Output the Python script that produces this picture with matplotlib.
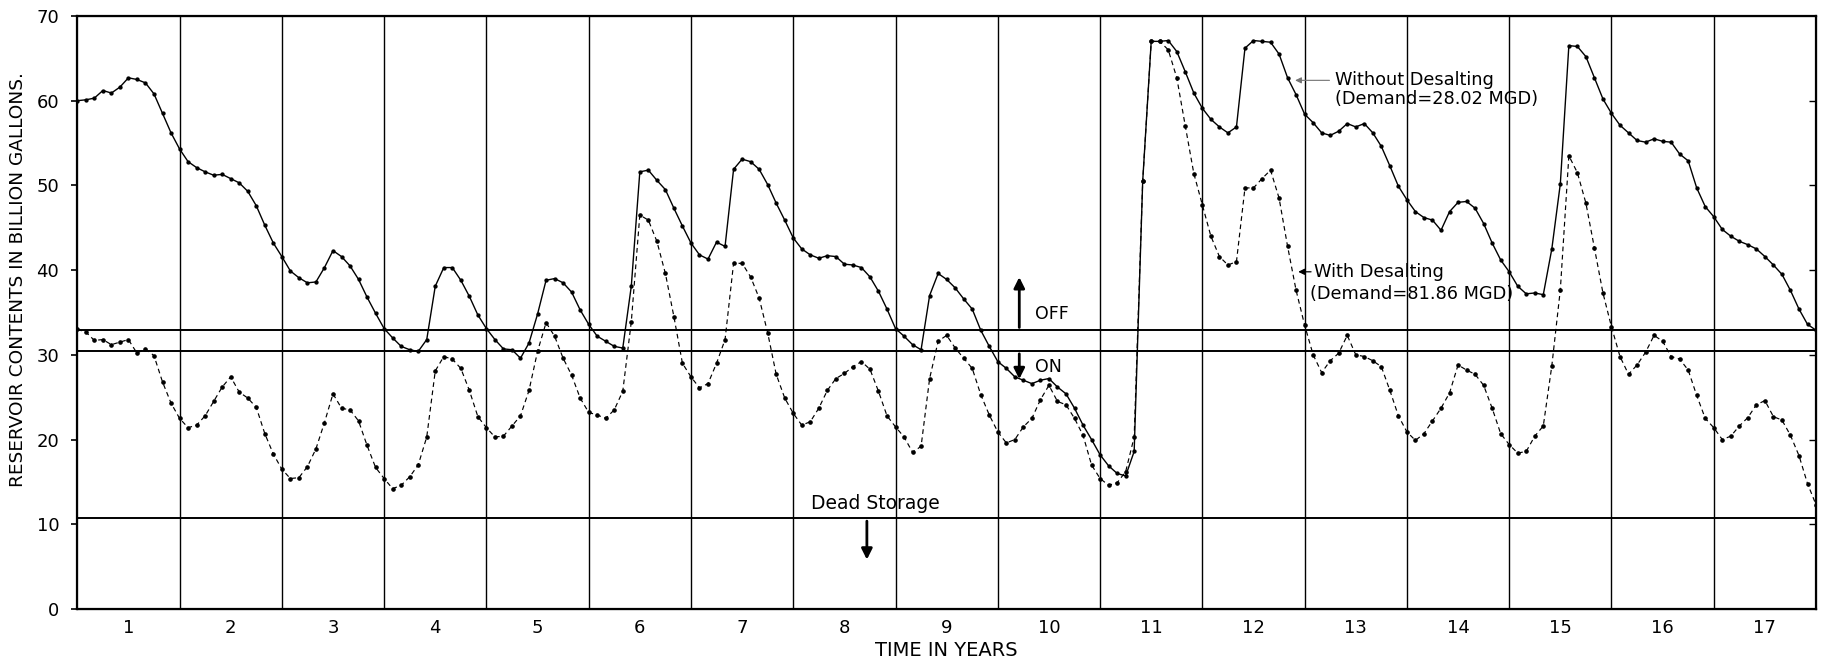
import matplotlib

matplotlib.use("Agg")
import matplotlib.pyplot as plt
import numpy as np

plt.rcParams["font.family"] = ["DejaVu Sans"]

# monthly reservoir contents (billion gallons), first value = start of year 1
without_desal = [
    60.0, 60.1, 60.3, 61.2, 60.9, 61.6, 62.7, 62.5, 62.1, 60.8, 58.5, 56.2, 54.3,
    52.8, 52.1, 51.6, 51.2, 51.3, 50.8, 50.3, 49.3, 47.6, 45.3, 43.2, 41.6,
    39.9, 39.1, 38.5, 38.6, 40.3, 42.3, 41.6, 40.5, 38.9, 36.8, 34.9, 33.1,
    32.0, 31.0, 30.6, 30.4, 31.8, 38.1, 40.3, 40.3, 38.8, 36.9, 34.7, 33.1,
    31.8, 30.7, 30.6, 29.6, 31.4, 34.8, 38.8, 39.0, 38.5, 37.4, 35.3, 33.6,
    32.2, 31.6, 31.0, 30.8, 38.1, 51.6, 51.8, 50.6, 49.5, 47.3, 45.2, 43.2,
    41.8, 41.3, 43.3, 42.8, 51.9, 53.1, 52.8, 51.9, 50.1, 47.9, 45.9, 43.8,
    42.5, 41.8, 41.4, 41.7, 41.6, 40.7, 40.6, 40.3, 39.2, 37.5, 35.4, 33.1,
    32.2, 31.2, 30.6, 37.0, 39.6, 38.9, 37.9, 36.6, 35.4, 32.9, 31.0, 29.2,
    28.4, 27.4, 27.0, 26.6, 27.0, 27.2, 26.2, 25.4, 23.7, 21.7, 20.0, 18.2,
    16.9, 16.0, 15.7, 18.6, 50.5, 67.0, 67.0, 67.1, 65.8, 63.4, 60.9, 59.1,
    57.8, 56.9, 56.2, 56.9, 66.2, 67.1, 67.0, 66.9, 65.5, 62.7, 60.7, 58.4,
    57.4, 56.2, 55.9, 56.4, 57.3, 56.9, 57.3, 56.2, 54.6, 52.3, 49.9, 48.3,
    46.9, 46.2, 45.9, 44.7, 46.9, 48.0, 48.1, 47.3, 45.5, 43.2, 41.2, 39.8,
    38.1, 37.2, 37.3, 37.1, 42.5, 50.2, 66.5, 66.4, 65.2, 62.7, 60.2, 58.5,
    57.1, 56.2, 55.3, 55.1, 55.5, 55.2, 55.1, 53.7, 52.9, 49.7, 47.5, 46.3,
    44.8, 44.0, 43.4, 43.0, 42.5, 41.6, 40.6, 39.5, 37.6, 35.4, 33.6, 32.9,
]

with_desal = [
    33.0, 32.7, 31.7, 31.8, 31.2, 31.5, 31.8, 30.2, 30.7, 29.9, 26.8, 24.3, 22.5,
    21.4, 21.7, 22.8, 24.5, 26.2, 27.4, 25.6, 24.9, 23.8, 20.7, 18.3, 16.5,
    15.4, 15.5, 16.8, 18.9, 22.0, 25.4, 23.7, 23.5, 22.2, 19.3, 16.7, 15.4,
    14.2, 14.6, 15.6, 17.0, 20.3, 28.1, 29.8, 29.5, 28.4, 25.8, 22.7, 21.4,
    20.3, 20.4, 21.6, 22.8, 25.8, 30.4, 33.8, 32.2, 29.6, 27.6, 24.9, 23.2,
    22.9, 22.5, 23.5, 25.7, 33.9, 46.5, 45.9, 43.4, 39.6, 34.5, 29.0, 27.4,
    26.1, 26.6, 29.0, 31.8, 40.8, 40.8, 39.2, 36.7, 32.6, 27.7, 24.9, 23.1,
    21.7, 22.1, 23.7, 25.8, 27.2, 27.8, 28.6, 29.2, 28.3, 25.7, 22.8, 21.5,
    20.3, 18.5, 19.2, 27.2, 31.6, 32.3, 30.8, 29.6, 28.4, 25.3, 22.9, 20.9,
    19.6, 20.0, 21.5, 22.5, 24.7, 26.4, 24.5, 24.1, 22.5, 20.5, 17.0, 15.4,
    14.6, 14.9, 16.2, 20.3, 50.5, 67.0, 67.0, 66.0, 62.7, 57.0, 51.4, 47.7,
    44.0, 41.6, 40.6, 41.0, 49.7, 49.7, 50.8, 51.8, 48.5, 42.8, 37.6, 33.5,
    30.0, 27.9, 29.3, 30.2, 32.3, 30.0, 29.8, 29.3, 28.6, 25.8, 22.8, 20.9,
    19.9, 20.7, 22.2, 23.7, 25.5, 28.8, 28.2, 27.7, 26.4, 23.7, 20.7, 19.4,
    18.4, 18.6, 20.4, 21.6, 28.7, 37.7, 53.5, 51.5, 47.9, 42.6, 37.3, 33.3,
    29.8, 27.7, 28.8, 30.3, 32.3, 31.6, 29.8, 29.5, 28.2, 25.2, 22.5, 21.4,
    20.0, 20.4, 21.6, 22.6, 24.1, 24.6, 22.7, 22.3, 20.5, 18.1, 14.8, 12.3,
]

years = list(range(1, 18))
off_level = 32.9
on_level = 30.45
dead_storage = 10.7

x = 0.5 + np.arange(len(without_desal)) / 12.0

fig = plt.figure(figsize=(18.27, 6.62), dpi=100)
ax = fig.add_axes([0.0423, 0.0801, 0.9517, 0.8958])

# year grid
for b in np.arange(1.5, 17.5, 1.0):
    ax.axvline(b, color="black", lw=1.0, zorder=1)

for lvl in (off_level, on_level, dead_storage):
    ax.axhline(lvl, color="black", lw=1.4, zorder=1)

ax.plot(x, without_desal, color="black", lw=1.0, marker="o", ms=2.1,
        zorder=3)
ax.plot(x[:len(with_desal)], with_desal, color="black", lw=0.85,
        linestyle=(0, (4, 3)), marker="o", ms=2.3, zorder=3)

ax.set_xlim(0.5, 17.5)
ax.set_ylim(0, 70)
ax.set_xticks(years)
ax.set_xticklabels([str(y) for y in years], fontsize=13)
ax.tick_params(axis="x", length=0, pad=7)
ax.set_yticks(range(0, 71, 10))
ax.tick_params(axis="y", labelsize=13, length=4, width=1.2, pad=9,
               direction="out")
# short inward marks on the right edge
ax2 = ax.twinx()
ax2.set_ylim(0, 70)
ax2.set_yticks(range(10, 70, 10))
ax2.tick_params(axis="y", direction="in", length=5, width=1.0,
                labelright=False)

for s in ax.spines.values():
    s.set_linewidth(1.6)

ax.set_xlabel("TIME IN YEARS", fontsize=14, labelpad=3)
ax.text(-0.034, 0.555, "RESERVOIR CONTENTS IN BILLION GALLONS.",
        transform=ax.transAxes, rotation=90, ha="center", va="center",
        fontsize=13.3)

arrow = dict(arrowstyle="-|>", lw=2.0, color="black", mutation_scale=16)
ax.annotate("", xy=(9.71, 39.5), xytext=(9.71, off_level), arrowprops=arrow)
ax.annotate("", xy=(9.71, 26.8), xytext=(9.71, on_level), arrowprops=arrow)
ax.text(9.86, 34.8, "OFF", fontsize=12.5, va="center")
ax.text(9.86, 28.6, "ON", fontsize=12.5, va="center")

ax.annotate("", xy=(8.22, 5.5), xytext=(8.22, dead_storage), arrowprops=arrow)
ax.text(8.30, 12.4, "Dead Storage", fontsize=13.5, ha="center", va="center")

ax.annotate("", xy=(12.38, 62.4), xytext=(12.77, 62.4),
            arrowprops=dict(arrowstyle="-|>", lw=0.8, color="0.45",
                            mutation_scale=9))
ax.text(12.80, 62.4, "Without Desalting", fontsize=12.8, va="center")
ax.text(12.80, 60.2, "(Demand=28.02 MGD)", fontsize=12.8, va="center")

ax.annotate("", xy=(12.41, 39.8), xytext=(12.59, 39.8),
            arrowprops=dict(arrowstyle="-|>", lw=0.9, color="black",
                            mutation_scale=9))
ax.text(12.59, 39.8, "With Desalting", fontsize=12.8, va="center")
ax.text(12.55, 37.2, "(Demand=81.86 MGD)", fontsize=12.8, va="center")

fig.savefig("out.png", dpi=100)
plt.close(fig)
